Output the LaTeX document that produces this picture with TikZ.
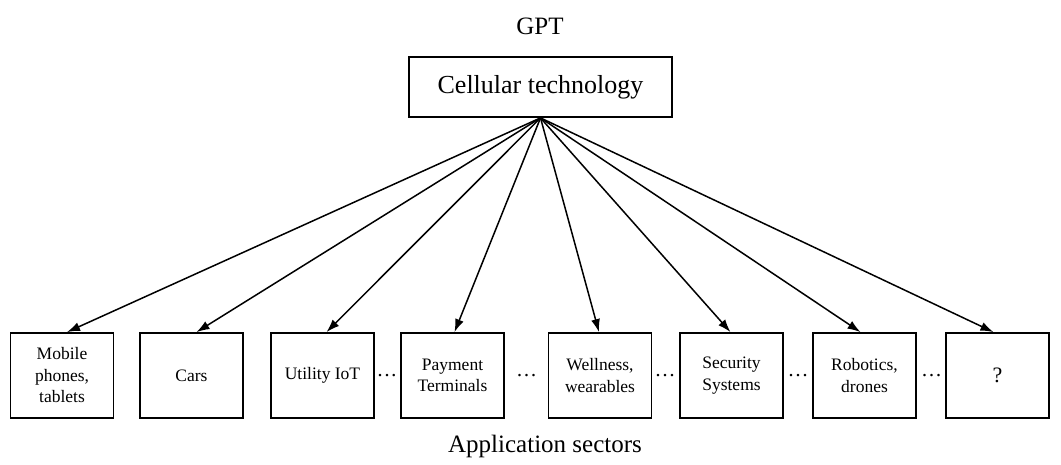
\documentclass[tikz,border=0pt]{standalone}
\usepackage{fontspec}
\setmainfont{Liberation Serif}
\usetikzlibrary{arrows.meta}
\begin{document}
\begin{tikzpicture}[x=1pt,y=-1pt,
    sector/.style={draw,line width=1.8pt,minimum width=103pt,minimum height=85pt,
      align=center,inner sep=0pt,font=\fontsize{17.5}{21.5}\selectfont},
    tech/.style={draw,line width=1.8pt,minimum width=263pt,minimum height=60pt,
      inner sep=0pt,font=\fontsize{26}{30}\selectfont},
    caption/.style={font=\fontsize{25}{30}\selectfont},
    gap/.style={font=\fontsize{21}{24}\selectfont,inner sep=0pt},
    link/.style={line width=1.5pt,-{Latex[length=13pt,width=9pt]}}]
      \useasboundingbox (0,0) rectangle (1061,464);
      \node[caption] (gpt) at (540,26) {GPT};
      \node[tech] (cell) at (540.5,87) {Cellular technology};
      \node[sector] (mob) at (62,375.5) {Mobile\\phones,\\tablets};
      \node[sector] (car) at (191.5,375.5) {Cars};
      \node[sector] (iot) at (322.5,375.5) {Utility IoT};
      \node[sector] (pay) at (452.5,375.5) {Payment\\Terminals};
      \node[sector] (well) at (600,375.5) {Wellness,\\wearables};
      \node[sector] (sec) at (731.5,375.5) {Security\\Systems};
      \node[sector] (rob) at (864.5,375.5) {Robotics,\\drones};
      \node[sector,font=\fontsize{22}{26}\selectfont] (unk) at (997.5,375.5) {?};
      \node[gap] (d1) at (387,378) {···};
      \node[gap] (d2) at (526.5,378) {···};
      \node[gap] (d3) at (665,378) {···};
      \node[gap] (d4) at (798,378) {···};
      \node[gap] (d5) at (931.5,378) {···};
      \node[caption] (app) at (545,446) {Application sectors};
      \draw [link] (cell.south) -- ([xshift=5pt]mob.north);
      \draw [link] (cell.south) -- ([xshift=5pt]car.north);
      \draw [link] (cell.south) -- ([xshift=4pt]iot.north);
      \draw [link] (cell.south) -- ([xshift=2pt]pay.north);
      \draw [link] (cell.south) -- ([xshift=-1pt]well.north);
      \draw [link] (cell.south) -- ([xshift=-1pt]sec.north);
      \draw [link] (cell.south) -- ([xshift=-4pt]rob.north);
      \draw [link] (cell.south) -- ([xshift=-4pt]unk.north);
\end{tikzpicture}
\end{document}
